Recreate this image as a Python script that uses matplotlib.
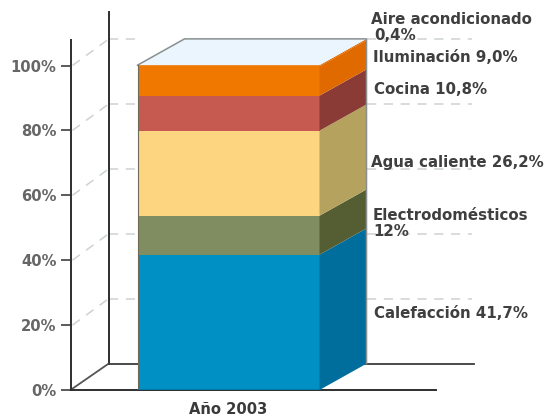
import matplotlib
matplotlib.use("Agg")
import matplotlib.pyplot as plt
from matplotlib.patches import Polygon

# Consumption shares per end use, stacked from the bottom up
uses = ["Calefacción", "Electrodomésticos", "Agua caliente", "Cocina", "Iluminación", "Aire acondicionado"]
shares = [41.7, 12.0, 26.2, 10.8, 9.0, 0.4]
year_label = ["Año 2003"]
pct_ticks = [0, 20, 40, 60, 80, 100]
pct_tick_labels = ["0%", "20%", "40%", "60%", "80%", "100%"]
legend_texts = ["Aire acondicionado", "0,4%", "Iluminación 9,0%", "Cocina 10,8%",
                "Agua caliente 26,2%", "Electrodomésticos", "12%", "Calefacción 41,7%"]

# Styling and placement
front_colors = ["#0090C3", "#7F8D60", "#FDD581", "#C65A51", "#F07800", "#F07800"]
side_colors = ["#006E9C", "#555E33", "#B5A25F", "#8B3B36", "#E06A00", "#E06A00"]
top_color = "#EAF5FD"
ink = "#2E2E2E"
grid_color = "#CDD2D2"
legend_x = [371, 374, 373, 374, 371, 373, 373, 374]
legend_y = [20, 36, 57, 90, 162, 215, 231, 314]

W, H = 552, 416
PX_PER_PCT = 3.245
AX_LEFT, AX_RIGHT, AX_BOTTOM_PX = 70.5, 436.0, 390.0
Y_MAX = 108.0
BAR_LEFT, BAR_RIGHT = 137.5, 319.5
BAR_CENTER = (BAR_LEFT + BAR_RIGHT) / 2
BAR_DX = 47.0           # bar depth on screen
WALL_DX = 38.0          # wall depth on screen
DEPTH_PCT = 26.3 / PX_PER_PCT  # vertical rise of the depth direction

fig = plt.figure(figsize=(W / 100, H / 100), dpi=100, facecolor="white")
ax = fig.add_axes([AX_LEFT / W, 1 - AX_BOTTOM_PX / H,
                   (AX_RIGHT - AX_LEFT) / W, Y_MAX * PX_PER_PCT / H])
ax.set_xlim(AX_LEFT, AX_RIGHT)
ax.set_ylim(0, Y_MAX)
ax.patch.set_visible(False)

for side in ("top", "right"):
    ax.spines[side].set_visible(False)
for side in ("left", "bottom"):
    ax.spines[side].set_color(ink)
    ax.spines[side].set_linewidth(1.4)

ax.set_yticks(pct_ticks, pct_tick_labels, fontsize=10.6, fontweight="bold", color="#666666")
ax.tick_params(axis="y", length=7.5, width=1.1, color=ink, pad=2.5)
ax.set_xticks([BAR_CENTER], year_label, fontsize=10.6, fontweight="bold", color="#3A3A3A")
ax.tick_params(axis="x", length=0, pad=9)

# Back wall: vertical axis, floor line and the diagonal joining the two axes
back_x = AX_LEFT + WALL_DX
ax.plot([back_x, back_x], [DEPTH_PCT, 116.4], color=ink, lw=1.4, clip_on=False, zorder=2)
ax.plot([AX_LEFT, back_x], [0, DEPTH_PCT], color="#555555", lw=1.3, zorder=2)
ax.plot([back_x, 474], [DEPTH_PCT, DEPTH_PCT], color="#3C3C3C", lw=1.3, clip_on=False, zorder=2)

# Dashed gridlines across the side wall, back wall and beyond the bar
dash = dict(color=grid_color, lw=1.1, dashes=(6, 5), clip_on=False, zorder=1)
for p in pct_ticks[1:]:
    ax.plot([AX_LEFT + 2, back_x], [p, p + DEPTH_PCT], **dash)
    ax.plot([back_x, BAR_LEFT], [p + DEPTH_PCT, p + DEPTH_PCT], **dash)
    ax.plot([BAR_RIGHT + BAR_DX, 472], [p + DEPTH_PCT, p + DEPTH_PCT], **dash)

# Stacked bar: front faces through ax.bar, side faces as parallelograms
bottom = 0.0
for share, fc, sc in zip(shares, front_colors, side_colors):
    ax.bar(BAR_CENTER, share, bottom=bottom, width=BAR_RIGHT - BAR_LEFT,
           color=fc, linewidth=0, zorder=4)
    top = bottom + share
    ax.add_patch(Polygon([(BAR_RIGHT, bottom), (BAR_RIGHT + BAR_DX, bottom + DEPTH_PCT),
                          (BAR_RIGHT + BAR_DX, top + DEPTH_PCT), (BAR_RIGHT, top)],
                 closed=True, fc=sc, ec="none", clip_on=False, zorder=4))
    bottom = top

# Top face of the stack and its outline
total = sum(shares)
ax.add_patch(Polygon([(BAR_LEFT, total), (BAR_RIGHT, total),
                      (BAR_RIGHT + BAR_DX, total + DEPTH_PCT), (BAR_LEFT + BAR_DX, total + DEPTH_PCT)],
             closed=True, fc=top_color, ec="none", clip_on=False, zorder=4))
ax.plot([BAR_LEFT, BAR_LEFT + BAR_DX, BAR_RIGHT + BAR_DX, BAR_RIGHT + BAR_DX],
        [total, total + DEPTH_PCT, total + DEPTH_PCT, DEPTH_PCT],
        color="#8A8F8F", lw=1.1, clip_on=False, zorder=5)
ax.plot([BAR_LEFT, BAR_LEFT], [0, total], color="#6E6A55", lw=0.8, zorder=5)
ax.plot([BAR_LEFT, BAR_RIGHT], [0, 0], color="#00719C", lw=1.1, zorder=5)

# Labels to the right of the bar
for text, px, py in zip(legend_texts, legend_x, legend_y):
    ax.text(px, (AX_BOTTOM_PX - py) / PX_PER_PCT, text, fontsize=10.8, fontweight="bold",
            color="#3F3F3F", ha="left", va="center", clip_on=False, zorder=6)

fig.savefig("out.png", dpi=100)
